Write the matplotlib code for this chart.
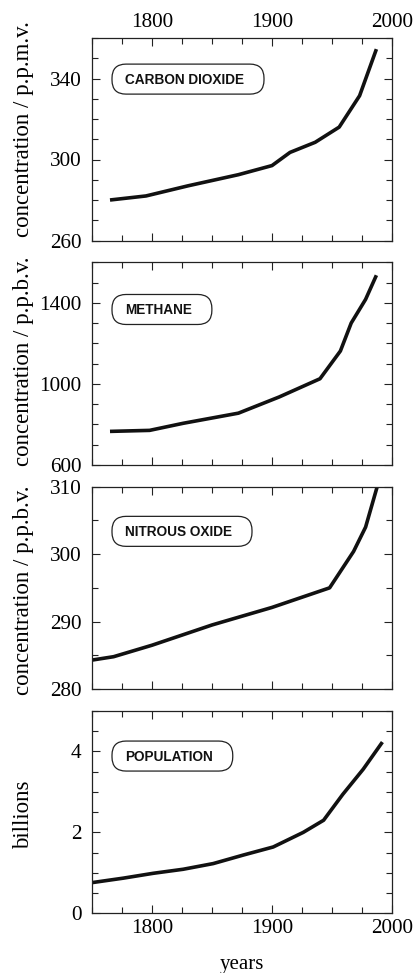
import matplotlib
matplotlib.use("Agg")
import matplotlib.pyplot as plt
from matplotlib.patches import FancyBboxPatch
from matplotlib.transforms import IdentityTransform
from matplotlib.ticker import MultipleLocator, FixedLocator

# carbon dioxide, p.p.m.v.
co2_years = [1765, 1795, 1830, 1872, 1900, 1915, 1936, 1956, 1973, 1987]
co2 = [280, 282, 287, 292.5, 297, 303.5, 308.5, 316, 331.5, 354.5]

# methane, p.p.b.v.
ch4_years = [1765, 1798, 1826, 1872, 1906, 1940, 1957, 1966, 1978, 1987]
ch4 = [765, 770, 805, 855, 935, 1025, 1162, 1300, 1417, 1536]

# nitrous oxide, p.p.b.v.
n2o_years = [1750, 1768, 1800, 1850, 1900, 1948, 1968, 1978, 1988]
n2o = [284.3, 284.8, 286.5, 289.5, 292.1, 295.0, 300.4, 304.0, 310.2]

# world population, billions
pop_years = [1750, 1776, 1801, 1826, 1851, 1876, 1901, 1926, 1943, 1959, 1976, 1992]
pop = [0.76, 0.87, 0.99, 1.09, 1.23, 1.44, 1.64, 2.00, 2.30, 2.94, 3.56, 4.23]

names = ["CARBON DIOXIDE", "METHANE", "NITROUS OXIDE", "POPULATION"]
ylabels = ["concentration / p.p.m.v.", "concentration / p.p.b.v.",
           "concentration / p.p.b.v.", "billions"]
ylims = [(260, 360), (600, 1600), (280, 310), (0, 5)]
yticks = [[260, 300, 340], [600, 1000, 1400], [280, 290, 300, 310], [0, 2, 4]]
yminor = [10, 100, 5, 0.5]
xticks = [1800, 1900, 2000]

series = [(co2_years, co2), (ch4_years, ch4), (n2o_years, n2o), (pop_years, pop)]

serif = "Liberation Serif"
sans = "Liberation Sans"

W, H = 420, 973
fig = plt.figure(figsize=(W / 100, H / 100), dpi=100)

left, width = 92, 300
top0, ph, step = 38, 202.5, 224.3
box_y = [0.797, 0.767, 0.779, 0.777]   # label box centre, axes fraction
label_shift = [-10, -2, 2, 3]          # px, vertical nudge of the axis labels

axes = []
texts = []
for i, (xs, ys) in enumerate(series):
    top = top0 + i * step
    ax = fig.add_axes([left / W, 1 - (top + ph) / H, width / W, ph / H])
    axes.append(ax)
    ax.plot(xs, ys, color="#111111", lw=2.6, solid_joinstyle="round",
            solid_capstyle="butt")
    ax.set_xlim(1750, 2000)
    ax.set_ylim(*ylims[i])

    ax.xaxis.set_major_locator(FixedLocator(xticks))
    ax.xaxis.set_minor_locator(MultipleLocator(25))
    ax.yaxis.set_major_locator(FixedLocator(yticks[i]))
    ax.yaxis.set_minor_locator(MultipleLocator(yminor[i]))
    ax.tick_params(which="both", direction="in", top=True, right=True,
                   width=0.8, color="#222222")
    ax.tick_params(which="major", length=5.8)
    ax.tick_params(which="minor", length=4.0)
    ax.tick_params(axis="y", pad=7.5)
    ax.tick_params(axis="x", pad=4,
                   labeltop=(i == 0), labelbottom=(i == 3))
    for lab in ax.get_xticklabels() + ax.get_yticklabels():
        lab.set_fontfamily(serif)
        lab.set_fontsize(15.3)
    for sp in ax.spines.values():
        sp.set_linewidth(0.9)
        sp.set_color("#222222")

    # rotated axis label beside the panel
    fig.text(24 / W, 1 - (top + ph / 2 + label_shift[i]) / H, ylabels[i],
             rotation=90, ha="center", va="center", family=serif,
             fontsize=16.5)

    t = ax.text(0.11, box_y[i] - 5 / ph, names[i], transform=ax.transAxes,
                ha="left", va="baseline", family=sans, fontweight="bold",
                fontsize=9.8, color="#111111")
    texts.append(t)

fig.text(242 / W, 1 - 964 / H, "years", ha="center", va="center",
         family=serif, fontsize=15)

# pill-shaped frames around the gas names, sized from the rendered text
fig.canvas.draw()
renderer = fig.canvas.get_renderer()
for i, t in enumerate(texts):
    bb = t.get_window_extent(renderer)
    base = axes[i].transAxes.transform((0, box_y[i] - 5 / ph))[1]
    x0, x1 = bb.x0 - 13, bb.x1 + 20
    y0, y1 = base - 10, base + 20
    patch = FancyBboxPatch((x0, y0), x1 - x0, y1 - y0,
                           boxstyle="round,pad=0,rounding_size=14",
                           transform=IdentityTransform(), fill=False,
                           lw=0.9, edgecolor="#222222")
    fig.add_artist(patch)

fig.savefig("out.png", dpi=100, facecolor="white")
